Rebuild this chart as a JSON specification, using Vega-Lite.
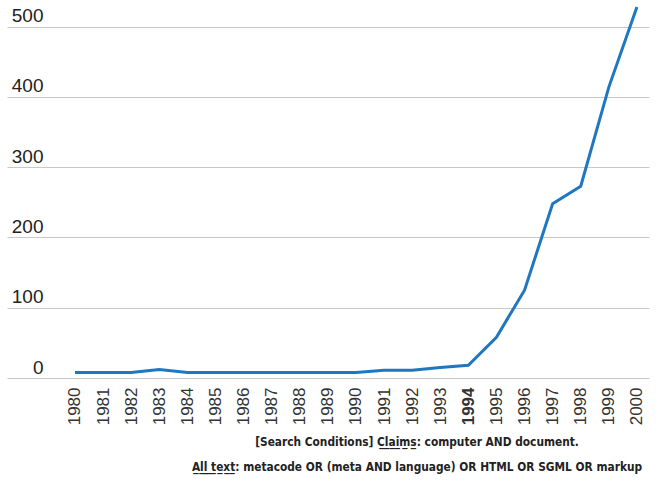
{
  "$schema": "https://vega.github.io/schema/vega-lite/v6.json",
  "width": 642,
  "height": 378,
  "autosize": {"type": "none"},
  "padding": {"left": 7, "top": 0, "right": 7, "bottom": 102},
  "background": "white",
  "config": {"view": {"stroke": null}},
  "title": {
    "text": ["[Search Conditions] C̲l̲a̲i̲m̲s̲: computer AND document.", "A̲l̲l̲ ̲t̲e̲x̲t̲: metacode OR (meta AND language) OR HTML OR SGML OR markup"],
    "orient": "bottom",
    "anchor": "middle",
    "dx": 89,
    "offset": 12,
    "font": "DejaVu Sans Condensed, Liberation Sans",
    "fontWeight": "bold",
    "fontSize": 11.8,
    "lineHeight": 25,
    "color": "#222222"
  },
  "data": {
    "values": [
      {"year": 1980, "count": 8},
      {"year": 1981, "count": 8},
      {"year": 1982, "count": 8},
      {"year": 1983, "count": 12},
      {"year": 1984, "count": 8},
      {"year": 1985, "count": 8},
      {"year": 1986, "count": 8},
      {"year": 1987, "count": 8},
      {"year": 1988, "count": 8},
      {"year": 1989, "count": 8},
      {"year": 1990, "count": 8},
      {"year": 1991, "count": 11},
      {"year": 1992, "count": 11},
      {"year": 1993, "count": 15},
      {"year": 1994, "count": 18},
      {"year": 1995, "count": 58},
      {"year": 1996, "count": 125},
      {"year": 1997, "count": 248},
      {"year": 1998, "count": 273},
      {"year": 1999, "count": 414},
      {"year": 2000, "count": 528}
    ]
  },
  "mark": {"type": "line", "color": "#1f77c0", "strokeWidth": 3},
  "encoding": {
    "x": {
      "field": "year",
      "type": "quantitative",
      "scale": {"domain": [1977.58, 2000.43], "nice": false, "zero": false},
      "axis": {
        "title": null,
        "values": [1980,1981,1982,1983,1984,1985,1986,1987,1988,1989,1990,1991,1992,1993,1994,1995,1996,1997,1998,1999,2000],
        "format": "d",
        "grid": false,
        "domain": false,
        "ticks": false,
        "labelAngle": -90,
        "labelAlign": "right",
        "labelBaseline": "middle",
        "labelPadding": 9,
        "labelFlush": false,
        "labelOverlap": false,
        "labelFont": "Liberation Sans",
        "labelFontSize": 17,
        "labelColor": "#333333",
        "labelFontWeight": {"condition": {"test": "datum.value == 1994", "value": "bold"}, "value": "normal"}
      }
    },
    "y": {
      "field": "count",
      "type": "quantitative",
      "scale": {"domain": [0, 538], "nice": false},
      "axis": {
        "title": null,
        "values": [0, 100, 200, 300, 400, 500],
        "grid": true,
        "gridColor": "#c8c8c8",
        "gridWidth": 1,
        "domain": false,
        "ticks": false,
        "labelAlign": "right",
        "labelBaseline": "alphabetic",
        "labelPadding": -36,
        "labelOffset": -5,
        "labelOverlap": false,
        "labelFont": "Liberation Sans",
        "labelFontSize": 19,
        "labelColor": "#222222"
      }
    }
  }
}
